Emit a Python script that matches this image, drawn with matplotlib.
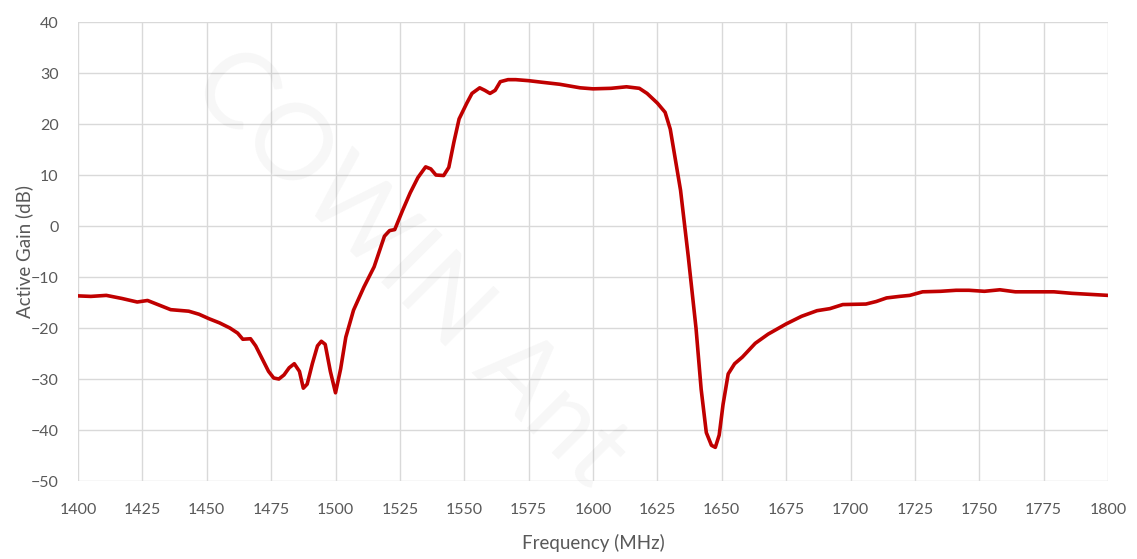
import numpy as np
import matplotlib.pyplot as plt

# (MHz, dB)
freq = [1400, 1405, 1411, 1417, 1423, 1427, 1431, 1436, 1443, 1447, 1451, 1455,
        1459, 1462, 1464, 1467, 1469, 1472, 1474, 1476, 1478, 1480, 1482, 1484,
        1486, 1487.5, 1489, 1491, 1493, 1494.5, 1496, 1498, 1500, 1502, 1504, 1507,
        1511, 1515, 1519, 1521, 1523, 1526, 1529, 1532, 1535, 1537, 1539, 1542,
        1544, 1546, 1548, 1551, 1553, 1556, 1558, 1560, 1562, 1564, 1567, 1570,
        1575, 1580, 1587, 1595, 1600, 1607, 1613, 1618, 1621, 1625, 1628, 1630,
        1632, 1634, 1637, 1640, 1642, 1644, 1646, 1647.5, 1649, 1650.5, 1652.5, 1655,
        1658, 1663, 1668, 1675, 1681, 1687, 1692, 1697, 1706, 1710, 1714, 1719,
        1723, 1728, 1735, 1741, 1746, 1752, 1758, 1764, 1771, 1779, 1786, 1793,
        1800]
gain = [-13.7, -13.8, -13.6, -14.2, -14.9, -14.6, -15.4, -16.4, -16.7, -17.3, -18.2, -19.0,
        -20.0, -21.0, -22.2, -22.1, -23.5, -26.5, -28.5, -29.8, -30.0, -29.2, -27.8, -27.0,
        -28.5, -31.8, -31.0, -27.0, -23.5, -22.6, -23.2, -28.5, -32.7, -28.0, -21.8, -16.5,
        -12.0, -8.0, -2.0, -0.9, -0.7, 3.0, 6.5, 9.5, 11.6, 11.2, 10.0, 9.9,
        11.5, 16.5, 21.0, 24.1, 26.0, 27.1, 26.6, 26.0, 26.6, 28.3, 28.7, 28.7,
        28.5, 28.2, 27.8, 27.1, 26.9, 27.0, 27.3, 27.0, 26.0, 24.1, 22.3, 19.0,
        13.0, 7.0, -6.0, -20.0, -32.0, -40.5, -43.0, -43.4, -41.0, -35.0, -29.0, -27.0,
        -25.7, -23.0, -21.2, -19.2, -17.7, -16.6, -16.2, -15.4, -15.3, -14.8, -14.1, -13.8,
        -13.6, -12.9, -12.8, -12.6, -12.6, -12.8, -12.5, -12.9, -12.9, -12.9, -13.2, -13.4,
        -13.6]

x_ticks = list(range(1400, 1801, 25))
y_ticks = list(range(-50, 41, 10))

plt.rcParams['font.family'] = ['Lato', 'DejaVu Sans']
grey = '#595959'

fig = plt.figure(figsize=(11.37, 5.59), dpi=100)
ax = fig.add_axes([0.0686, 0.1395, 0.9059, 0.8211])

ax.plot(freq, gain, color='#C00000', lw=2.6, solid_joinstyle='round',
        solid_capstyle='round', zorder=3)

ax.set_xlim(1400, 1800)
ax.set_ylim(-50, 40)
ax.set_xticks(x_ticks)
ax.set_yticks(y_ticks)
ax.grid(True, color='#D9D9D9', lw=1.0, zorder=0)
ax.set_axisbelow(True)
for s in ax.spines.values():
    s.set_visible(False)
ax.tick_params(length=0, colors=grey, labelsize=11.5)
ax.tick_params(axis='y', pad=14)
ax.tick_params(axis='x', pad=16)

ax.set_xlabel('Frequency (MHz)', color=grey, fontsize=13.5, labelpad=12)
ax.set_ylabel('Active Gain (dB)', color=grey, fontsize=13.5, labelpad=-2)

# faint watermark
fig.text(0.36, 0.52, 'COWIN Ant', fontsize=76, color='black', alpha=0.035,
         rotation=-45, ha='center', va='center', zorder=10)

fig.savefig('out.png', dpi=100)
